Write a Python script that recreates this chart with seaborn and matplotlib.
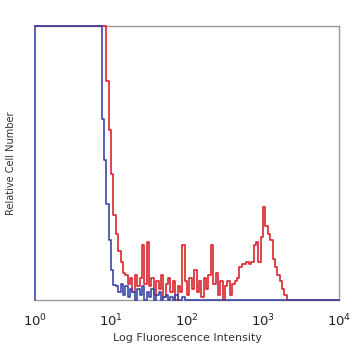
import numpy as np
import pandas as pd
import matplotlib
matplotlib.use("Agg")
import matplotlib.pyplot as plt
import seaborn as sns

# channel counts, 128 log channels over 4 decades (10^0 .. 10^4), 100 = top of scale
blue_counts = [
    100, 100, 100, 100, 100, 100, 100, 100, 100, 100, 100, 100, 100, 100,
    100, 100, 100, 100, 100, 100, 100, 100, 100, 100, 100, 100, 100, 100,
    66, 51, 35, 22, 11, 5.5,
    5, 3, 6, 2, 5, 1, 4,
    3, 0, 4, 2, 5, 0, 3, 1, 4, 0, 2, 3, 0, 1, 2,
    0, 1, 0, 2, 0, 0, 1, 0, 0, 0,
    0, 0, 0, 0, 0, 0, 0, 0, 0, 0, 0, 0, 0, 0, 0, 0, 0, 0, 0, 0, 0,
    0, 0, 0, 0, 0, 0, 0, 0, 0, 0, 0, 0, 0, 0, 0, 0, 0, 0, 0, 0, 0,
    0, 0, 0, 0, 0, 0, 0, 0, 0, 0, 0, 0, 0, 0, 0, 0, 0, 0, 0, 0,
]
red_counts = [
    100, 100, 100, 100, 100, 100, 100, 100, 100, 100, 100, 100, 100, 100, 100,
    100, 100, 100, 100, 100, 100, 100, 100, 100, 100, 100, 100, 100, 100, 100,
    80, 62, 46, 31, 24, 18, 14, 10,
    9, 6, 8, 3, 9, 5, 8, 20,
    6, 21, 5, 8, 2,
    7, 4, 9, 1, 6, 8, 3, 7, 0, 5,
    3, 20, 7, 2, 8, 4, 11,
    3, 7, 1, 8, 4, 9, 20, 6, 10, 2, 7, 0, 5, 7, 2, 6, 7,
    8, 12, 13, 13, 14, 13, 14,
    20, 21, 14,
    23, 34, 27, 24, 22, 15,
    12, 9, 7, 4, 2, 0,
    0, 0, 0, 0, 0, 0, 0, 0, 0, 0, 0, 0, 0, 0, 0, 0, 0, 0, 0, 0, 0,
]
tick_values = [1, 10, 100, 1000, 10000]
tick_labels = ["$10^0$", "$10^1$", "$10^2$", "$10^3$", "$10^4$"]

n_bins = len(blue_counts)
centers = 10 ** ((np.arange(n_bins) + 0.5) * 4 / n_bins)
df = pd.DataFrame({"fl": centers, "blue": blue_counts, "red": red_counts})

sns.set_style("white")
plt.rcParams["font.family"] = ["DejaVu Sans"]

fig = plt.figure(figsize=(3.58, 3.58), dpi=100)
ax = fig.add_axes([0.098, 0.162, 0.849, 0.765])

sns.histplot(data=df, x="fl", weights="red", bins=n_bins, binrange=(0, 4),
             log_scale=True, element="step", fill=False, color="#d8262c",
             linewidth=1.2, ax=ax)
sns.histplot(data=df, x="fl", weights="blue", bins=n_bins, binrange=(0, 4),
             log_scale=True, element="step", fill=False, color="#3a47a5",
             linewidth=1.2, ax=ax)
# saturated / empty channels sit on the frame, keep them fully visible
for line in ax.lines:
    line.set_clip_on(False)

ax.set_xlim(1, 10000)
ax.set_ylim(0, 100)
ax.set_xticks(tick_values)
ax.set_xticklabels(tick_labels, fontsize=9.5)
ax.minorticks_off()
ax.set_yticks([])
ax.tick_params(axis="x", length=0, pad=9, colors="#222222")
ax.set_xlabel("Log Fluorescence Intensity", fontsize=8, color="#333333", labelpad=3)
ax.set_ylabel("Relative Cell Number", fontsize=7, color="#333333", labelpad=14)

for side in ["top", "right", "bottom"]:
    ax.spines[side].set_color("#9a9a9a")
    ax.spines[side].set_linewidth(1.0)
    ax.spines[side].set_zorder(0.5)
ax.spines["left"].set_color("#3a47a5")
ax.spines["left"].set_linewidth(1.2)

fig.savefig("out.png", dpi=100)
